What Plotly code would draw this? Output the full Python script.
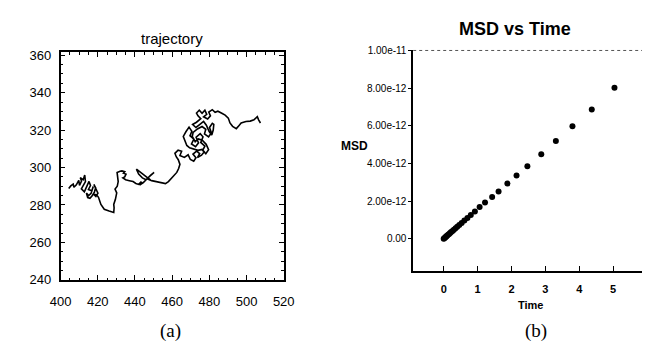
import plotly.graph_objects as go

# ---- Data: trajectory (a) ----
traj_x = [404.4, 405.5, 406.8, 407.2, 408.5, 409.8, 410.2, 411.3, 410.6, 412.2, 413.0, 413.4, 412.1, 411.2, 412.8,
          414.0, 415.3, 416.1, 415.0, 416.8, 417.6, 416.4, 415.1, 413.9, 414.6, 415.8, 416.9, 418.2, 418.9, 417.9,
          419.3, 420.1, 419.0, 417.6, 419.4, 420.4,
          421.7, 423.5, 426.1, 428.6, 428.8, 428.6,
          429.5, 430.2, 429.3, 430.5, 431, 430.4, 430.4, 432, 433, 434.5, 433.8, 435.2, 434.5, 433.5, 435, 437, 439,
          440.5, 442, 443.5, 442.5, 444.5, 446, 444, 442, 440.8, 443, 445.5, 448.6, 447, 448.5, 450.3, 448.5, 446.5,
          449, 451, 453, 455, 456.4, 458, 459.8, 461, 462.5, 463.5, 464.2, 463.3,
          462.2, 461.5, 463.2, 465.1, 464.2, 466.6, 468.6, 469.8, 471.6, 472.8, 471.2, 473.2, 474.8, 473.6, 475.8,
          477.3, 476.1, 473.9, 471.6, 469.4, 467.9, 466.9, 466.0, 467.4, 469.1, 470.6, 469.6, 471.7, 470.4, 472.6,
          474.2, 472.9, 475.1, 476.6, 475.4, 477.6, 476.4, 478.1, 479.6, 478.3, 476.2, 474.1, 472.4, 470.8, 471.3,
          473.6, 476.1, 478.1, 477.4, 479.6, 481.1, 480.1, 481.6, 482.4, 482.1, 481.3, 479.9, 478.4, 476.9, 474.6,
          472.8, 471.0, 473.1, 475.4, 473.9, 473.1, 474.6, 476.1, 477.6, 478.6, 476.9, 479.1, 480.6, 479.7, 481.6,
          483.1, 484.6,
          486.7, 488.5, 490.2, 491.1, 492.5, 494.5, 496, 497.1, 499.7, 502, 504, 505.8, 506.5, 507.5]
traj_y = [288.8, 290.2, 291.2, 289.5, 290.8, 293.2, 290.5, 292.8, 294.6, 293.5, 296.0, 292.5, 290.2, 288.6, 287.0,
          289.4, 292.6, 290.4, 288.3, 287.6, 289.9, 286.2, 285.0, 286.4, 284.0, 283.6, 284.8, 286.9, 289.2, 291.0,
          288.0, 286.3, 284.6, 285.9, 285.4, 284.1,
          280.3, 277.7, 276.8, 276, 278.5, 280.3,
          283, 286.5, 288.5, 290, 292.5, 296, 297.4, 298, 298.2, 297.8, 297, 296.5, 295, 294.5, 293.5, 293, 292.5,
          291.5, 291, 292.5, 290.6, 292, 293.5, 294.5, 296.5, 299.1, 297.5, 295.5, 293.1, 294.5, 296, 297.4, 295.8, 294,
          293, 292.5, 292, 291.5, 291.4, 292.5, 294.3, 295.5, 297.4, 299.5, 301.7, 304.2,
          305.8, 307.6, 309.3, 308.7, 306.4, 305.4, 306.8, 304.3, 303.4, 305.2, 307.2, 308.8, 307.4, 305.3, 306.6,
          308.4, 309.7, 309.2, 309.8, 310.5, 311.8, 314.2, 316.6, 319.1, 321.6, 319.4, 317.0, 315.2, 312.6, 311.1,
          313.2, 316.2, 318.1, 316.4, 313.4, 311.4, 309.2, 307.4, 309.6, 312.4, 314.6, 315.3, 313.8, 316.6, 318.8,
          320.6, 321.9, 320.4, 318.0, 316.4, 318.6, 321.4, 323.6, 323.0, 320.0, 317.4, 319.2, 322.6, 324.6, 322.8,
          321.4, 323.0, 324.2, 326.1, 327.6, 329.1, 330.6, 329.0, 330.6, 328.4, 327.1, 325.9, 327.6, 329.6, 330.9,
          329.5, 330.1,
          329, 328, 326.4, 323.8, 322, 320.8, 322.5, 323.8, 324.6, 324.8, 325.5, 327.2, 325.5, 323.8]

traj_xtick_step = 20
traj_ytick_step = 20
traj_minor_step = 5

# ---- Data: MSD vs Time (b) ----
time_vals = [0.0, 0.02, 0.04, 0.06, 0.08, 0.10, 0.13, 0.16, 0.19, 0.22, 0.26, 0.30, 0.35, 0.40, 0.46, 0.53, 0.61,
             0.70, 0.80, 0.92, 1.06, 1.22, 1.43, 1.62, 1.88, 2.15, 2.47, 2.88, 3.31, 3.80, 4.37, 5.04]
msd_vals = [0.0, 0.03e-12, 0.06e-12, 0.09e-12, 0.13e-12, 0.16e-12, 0.21e-12, 0.25e-12, 0.30e-12, 0.35e-12, 0.41e-12,
            0.47e-12, 0.55e-12, 0.63e-12, 0.73e-12, 0.84e-12, 0.96e-12, 1.10e-12, 1.26e-12, 1.45e-12, 1.68e-12,
            1.92e-12, 2.22e-12, 2.51e-12, 2.93e-12, 3.36e-12, 3.85e-12, 4.49e-12, 5.19e-12, 5.98e-12, 6.86e-12,
            8.02e-12]
msd_ytickvals = [0.0, 2e-12, 4e-12, 6e-12, 8e-12, 1e-11]
msd_yticktext = ["0.00", "2.00e-12", "4.00e-12", "6.00e-12", "8.00e-12", "1.00e-11"]
msd_xticks = [0, 1, 2, 3, 4, 5, 6]

W, H = 650, 349
def px(x): return x / W
def py(y): return (H - y) / H

fig = go.Figure()
fig.add_trace(go.Scatter(x=traj_x, y=traj_y, mode="lines", line=dict(color="black", width=1.6),
                         xaxis="x", yaxis="y", showlegend=False, hoverinfo="skip"))
fig.add_trace(go.Scatter(x=time_vals, y=msd_vals, mode="markers", marker=dict(color="black", size=6),
                         xaxis="x2", yaxis="y2", showlegend=False))

lfont = dict(family="Liberation Sans", size=13, color="black")
bfont = dict(family="Liberation Sans", size=11, color="black", weight="bold")

fig.update_layout(
    width=W, height=H, margin=dict(l=0, r=0, t=0, b=0),
    paper_bgcolor="white", plot_bgcolor="white",
    xaxis=dict(domain=[px(43), px(274)], range=[400, 520], tickmode="linear", tick0=0, dtick=traj_xtick_step,
               ticks="inside", ticklen=5, tickcolor="black", showline=True, linecolor="black", linewidth=1.5,
               mirror="ticks", showgrid=False, zeroline=False, tickfont=lfont, ticklabelstandoff=9,
               minor=dict(tickmode="linear", dtick=traj_minor_step, ticks="inside", ticklen=2.5,
                          tickcolor="black", showgrid=False),
               anchor="y"),
    yaxis=dict(domain=[py(277), py(40)], range=[240, 361.5], tickmode="linear", tick0=0, dtick=traj_ytick_step,
               ticks="inside", ticklen=5, tickcolor="black", showline=True, linecolor="black", linewidth=1.5,
               mirror="ticks", showgrid=False, zeroline=False, tickfont=lfont, ticklabelstandoff=5,
               minor=dict(tickmode="linear", dtick=traj_minor_step, ticks="inside", ticklen=2.5,
                          tickcolor="black", showgrid=False),
               anchor="x"),
    xaxis2=dict(domain=[px(408), 1.0], range=[-0.9, 6.0], tickvals=msd_xticks,
                ticks="inside", ticklen=5, tickcolor="black", showline=True, linecolor="black", linewidth=1.5,
                showgrid=False, zeroline=False, tickfont=bfont, ticklabelstandoff=7, anchor="y2"),
    yaxis2=dict(domain=[py(268), py(38)], range=[-1.73e-12, 1.0e-11], tickvals=msd_ytickvals,
                ticktext=msd_yticktext, ticks="outside", ticklen=3, tickcolor="black", showline=True,
                linecolor="black", linewidth=1.5, showgrid=False, zeroline=False,
                tickfont=dict(family="Liberation Sans Narrow, Liberation Sans", size=10, color="black"),
                anchor="x2"),
    shapes=[
        dict(type="line", xref="paper", yref="paper", x0=px(408), x1=px(648), y0=py(38), y1=py(38),
             line=dict(color="#555", width=1, dash="dot")),
        dict(type="line", xref="paper", yref="paper", x0=px(648), x1=px(648), y0=py(38), y1=py(268),
             line=dict(color="#999", width=1, dash="dot")),
    ],
    annotations=[
        dict(text="trajectory", x=px(158), y=py(26), xref="paper", yref="paper", showarrow=False,
             font=dict(family="Liberation Sans", size=15, color="black"), xanchor="center", yanchor="middle"),
        dict(text="MSD vs Time", x=px(513), y=py(16), xref="paper", yref="paper", showarrow=False,
             font=dict(family="Liberation Sans", size=18, color="black", weight="bold"),
             xanchor="center", yanchor="middle"),
        dict(text="MSD", x=px(347), y=py(137), xref="paper", yref="paper", showarrow=False,
             font=dict(family="Liberation Sans", size=12, color="black", weight="bold"),
             xanchor="center", yanchor="middle"),
        dict(text="Time", x=px(529), y=py(303), xref="paper", yref="paper", showarrow=False,
             font=bfont, xanchor="center", yanchor="middle"),
        dict(text="(a)", x=px(157), y=py(330), xref="paper", yref="paper", showarrow=False,
             font=dict(family="Liberation Serif", size=19, color="black"), xanchor="center", yanchor="middle"),
        dict(text="(b)", x=px(535), y=py(330), xref="paper", yref="paper", showarrow=False,
             font=dict(family="Liberation Serif", size=19, color="black"), xanchor="center", yanchor="middle"),
    ],
)

fig.write_html("out.html")
